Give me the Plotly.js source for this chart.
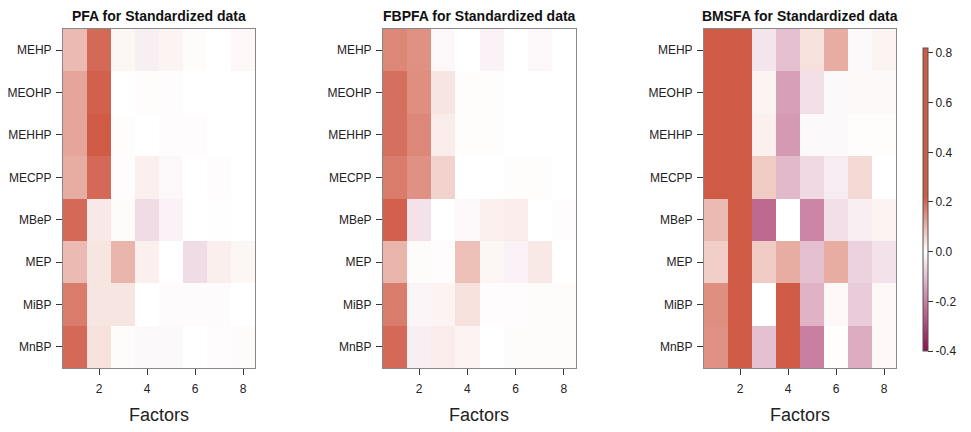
<!DOCTYPE html>
<html><head><meta charset="utf-8">
<script src="https://cdn.plot.ly/plotly-3.0.1.min.js"></script>
<style>html,body{margin:0;padding:0;background:#fff}</style>
</head><body><div id="chart" style="width:971px;height:432px"></div>
<script>
const factors = [1, 2, 3, 4, 5, 6, 7, 8];
const chemicals = ["MEHP", "MEOHP", "MEHHP", "MECPP", "MBeP", "MEP", "MiBP", "MnBP"];
const panelTitles = ["PFA for Standardized data", "FBPFA for Standardized data", "BMSFA for Standardized data"];
const xTickVals = [2, 4, 6, 8];
const cbTicks = [-0.4, -0.2, 0.0, 0.2, 0.4, 0.6, 0.8];

const pfa = [
  [0.09, 0.20, 0.012, -0.025, 0.015, 0.005, 0.0, 0.01],
  [0.12, 0.21, 0.0, 0.003, -0.004, 0.0, 0.0, 0.0],
  [0.12, 0.25, 0.003, 0.0, -0.004, -0.004, 0.0, 0.0],
  [0.11, 0.20, -0.004, 0.02, -0.012, 0.0, -0.004, 0.0],
  [0.20, 0.03, 0.005, -0.055, -0.02, 0.0, -0.002, 0.0],
  [0.09, 0.035, 0.10, 0.02, 0.0, -0.055, 0.022, 0.012],
  [0.175, 0.035, 0.035, 0.0, -0.006, -0.006, -0.006, 0.0],
  [0.20, 0.04, 0.005, -0.01, -0.01, 0.0, -0.004, 0.005]
];
const fbpfa = [
  [0.16, 0.145, -0.012, 0.0, -0.02, 0.0, -0.012, 0.0],
  [0.19, 0.15, 0.035, 0.003, 0.003, 0.0, 0.0, 0.0],
  [0.19, 0.16, 0.025, 0.003, 0.003, 0.0, 0.0, 0.0],
  [0.175, 0.145, 0.06, 0.0, 0.0, 0.003, 0.003, 0.0],
  [0.21, -0.045, 0.0, -0.012, 0.02, 0.025, 0.0, -0.004],
  [0.10, 0.005, -0.004, 0.085, 0.012, -0.02, 0.03, 0.0],
  [0.175, -0.015, 0.015, 0.04, -0.004, -0.004, 0.005, 0.005],
  [0.20, -0.025, 0.025, 0.015, 0.0, 0.005, 0.005, 0.005]
];
const bmsfa = [
  [0.78, 0.80, -0.04, -0.10, 0.04, 0.11, -0.01, 0.015],
  [0.80, 0.82, 0.015, -0.15, -0.05, -0.01, 0.008, 0.008],
  [0.80, 0.82, 0.02, -0.16, -0.01, -0.01, 0.003, 0.003],
  [0.75, 0.78, 0.07, -0.11, -0.06, -0.03, 0.05, 0.0],
  [0.09, 0.60, -0.24, 0.0, -0.19, -0.05, -0.025, 0.015],
  [0.065, 0.55, 0.07, 0.11, -0.10, 0.11, -0.07, -0.045],
  [0.15, 0.50, 0.0, 0.50, -0.12, 0.01, -0.08, 0.01],
  [0.145, 0.55, -0.10, 0.45, -0.20, 0.002, -0.13, 0.01]
];
const panelData = [pfa, fbpfa, bmsfa];

const W = 971, H = 432;
const xPix = [[63, 255], [383, 576], [704, 896]];
const yDom = [1 - 368 / H, 1 - 29 / H];
const cmin = -0.4, cmax = 0.82;
const nz = v => (v - cmin) / (cmax - cmin);
const colorscale = [
  [0, '#8c0f50'],
  [nz(-0.2), '#c97fa0'],
  [nz(0), '#ffffff'],
  [nz(0.22), '#cf5a45'],
  [1, '#cf5a45']
];

const font = {family: 'Liberation Sans, Arial, sans-serif', color: '#000'};
const traces = [];
const layout = {
  width: W, height: H,
  margin: {l: 0, r: 0, t: 0, b: 0},
  paper_bgcolor: '#fff', plot_bgcolor: '#fff',
  font: font,
  showlegend: false,
  coloraxis: {
    cmin: cmin, cmax: cmax, colorscale: colorscale,
    colorbar: {
      x: 923 / W, xanchor: 'left', xpad: 0, ypad: 0,
      y: 1 - 48 / H, yanchor: 'top',
      len: 303, lenmode: 'pixels',
      thickness: 5, thicknessmode: 'pixels',
      outlinewidth: 1, outlinecolor: '#555',
      tickvals: cbTicks, ticktext: cbTicks.map(v => v.toFixed(1)),
      ticks: 'outside', ticklen: 5, tickcolor: '#333',
      tickfont: {size: 12, family: font.family, color: '#222'}
    }
  },
  annotations: []
};

panelData.forEach((z, i) => {
  const k = i === 0 ? '' : String(i + 1);
  traces.push({
    type: 'heatmap', x: factors, y: chemicals, z: z,
    coloraxis: 'coloraxis',
    xaxis: 'x' + k, yaxis: 'y' + k,
    hoverongaps: false
  });
  const dom = [xPix[i][0] / W, xPix[i][1] / W];
  layout['xaxis' + k] = {
    domain: dom, anchor: 'y' + k, range: [0.5, 8.5],
    tickvals: xTickVals, ticks: 'outside', ticklen: 6, tickcolor: '#333',
    showline: true, mirror: true, linecolor: '#888', linewidth: 1,
    showgrid: false, zeroline: false,
    tickfont: {size: 12, family: font.family, color: '#222'},
    ticklabelstandoff: 4
  };
  layout['yaxis' + k] = {
    domain: yDom, anchor: 'x' + k, type: 'category',
    autorange: 'reversed',
    ticks: 'outside', ticklen: 6, tickcolor: '#333',
    showline: true, mirror: true, linecolor: '#888', linewidth: 1,
    showgrid: false, zeroline: false,
    tickfont: {size: 12, family: font.family, color: '#222'},
    ticklabelstandoff: 2
  };
  const cx = (dom[0] + dom[1]) / 2;
  layout.annotations.push({
    text: '<b>' + panelTitles[i] + '</b>', xref: 'paper', yref: 'paper',
    x: cx, y: 1 - 16 / H, xanchor: 'center', yanchor: 'middle',
    showarrow: false, font: {size: 14, family: font.family, color: '#111'}
  });
  layout.annotations.push({
    text: 'Factors', xref: 'paper', yref: 'paper',
    x: cx, y: 1 - 415 / H, xanchor: 'center', yanchor: 'middle',
    showarrow: false, font: {size: 18, family: font.family, color: '#222'}
  });
});

Plotly.newPlot('chart', traces, layout, {displayModeBar: false, staticPlot: true});
</script>
</body></html>
